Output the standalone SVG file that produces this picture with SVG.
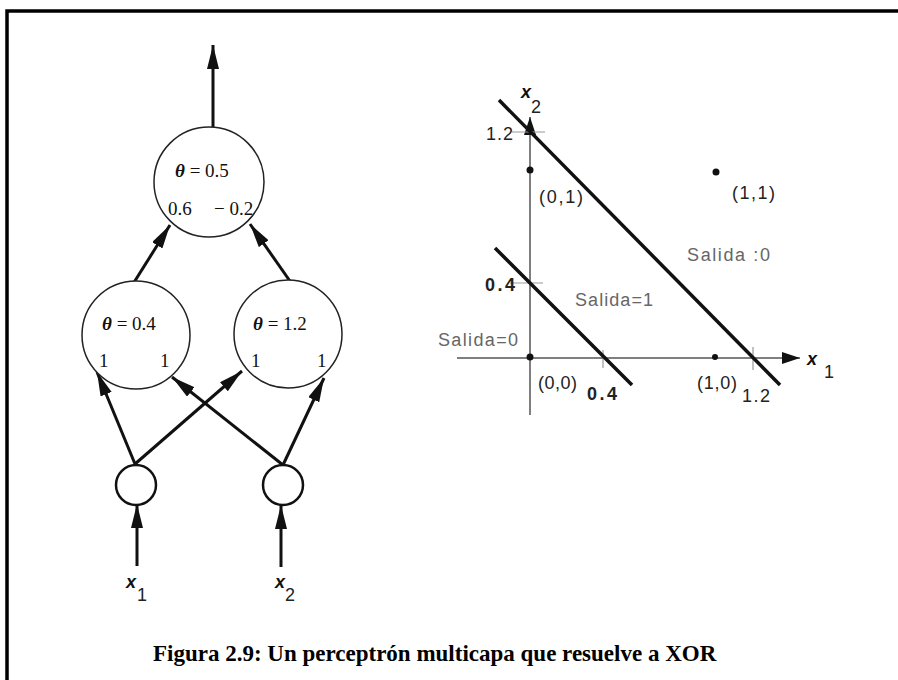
<svg xmlns="http://www.w3.org/2000/svg" width="898" height="680" viewBox="0 0 898 680">
<style>
.node{fill:#fff;stroke:#222;stroke-width:1.5}
.inp{fill:#fff;stroke:#111;stroke-width:2.5}
.edge{stroke:#111;stroke-width:3;fill:none}
.ser{font-family:"Liberation Serif",serif;font-size:19px;fill:#111}
.sans{font-family:"Liberation Sans",Arial,sans-serif;font-size:18px;fill:#222}
.gray{font-family:"Liberation Sans",Arial,sans-serif;font-size:18px;fill:#666}
.var{font-family:"Liberation Sans",Arial,sans-serif;font-size:18px;fill:#111;font-style:italic;font-weight:bold}
.axis{stroke:#555;stroke-width:1.5;fill:none}
.dline{stroke:#111;stroke-width:3.5;fill:none}
.tick{stroke:#999;stroke-width:1.2}
.cap{font-family:"Liberation Serif",serif;font-weight:bold;font-size:23px;fill:#000}
</style>
<defs>
<marker id="ah" viewBox="0 0 24 12" refX="24" refY="6" markerWidth="24" markerHeight="12" markerUnits="userSpaceOnUse" orient="auto">
<path d="M0,0 L24,6 L0,12 Z" fill="#111"/>
</marker>
<marker id="ax" viewBox="0 0 18 12" refX="18" refY="6" markerWidth="18" markerHeight="12" markerUnits="userSpaceOnUse" orient="auto">
<path d="M0,0 L18,6 L0,12 Z" fill="#111"/>
</marker>
</defs>
<rect width="898" height="680" fill="#fff"/>
<path d="M7,680 V11 H898" stroke="#000" stroke-width="3.5" fill="none"/>

<g id="connectors">
<line class="edge" x1="213" y1="127" x2="213" y2="45" marker-end="url(#ah)"/>
<line class="edge" x1="133" y1="284" x2="170" y2="225" marker-end="url(#ah)"/>
<line class="edge" x1="292" y1="284" x2="250" y2="224" marker-end="url(#ah)"/>
<line class="edge" x1="135" y1="464" x2="97" y2="372" marker-end="url(#ah)"/>
<line class="edge" x1="135" y1="464" x2="242" y2="371" marker-end="url(#ah)"/>
<line class="edge" x1="283" y1="465" x2="172" y2="377" marker-end="url(#ah)"/>
<line class="edge" x1="283" y1="465" x2="324" y2="378" marker-end="url(#ah)"/>
<line class="edge" x1="137" y1="566" x2="137" y2="504" marker-end="url(#ah)"/>
<line class="edge" x1="281" y1="567" x2="281" y2="505" marker-end="url(#ah)"/>
</g>

<g id="out">
<circle class="node" cx="209" cy="182" r="55"/>
<text class="ser" x="175" y="177"><tspan font-style="italic" font-weight="bold">θ</tspan> = 0.5</text>
<text class="ser" x="168" y="215">0.6</text>
<text class="ser" x="214" y="215">− 0.2</text>
</g>
<g id="h1">
<circle class="node" cx="136" cy="335" r="54"/>
<text class="ser" x="102" y="330"><tspan font-style="italic" font-weight="bold">θ</tspan> = 0.4</text>
<text class="ser" x="99" y="367">1</text>
<text class="ser" x="160" y="367">1</text>
</g>
<g id="h2">
<circle class="node" cx="288" cy="334" r="54"/>
<text class="ser" x="253" y="330"><tspan font-style="italic" font-weight="bold">θ</tspan> = 1.2</text>
<text class="ser" x="251" y="367">1</text>
<text class="ser" x="317" y="367">1</text>
</g>
<g id="in1">
<circle class="inp" cx="136" cy="485" r="20"/>
<text class="var" x="126" y="588">x</text>
<text class="sans" x="137" y="601">1</text>
</g>
<g id="in2">
<circle class="inp" cx="283" cy="485" r="20"/>
<text class="var" x="275" y="588">x</text>
<text class="sans" x="285" y="601">2</text>
</g>

<g id="plot">
<line class="axis" x1="457" y1="358" x2="800" y2="358" marker-end="url(#ax)"/>
<line class="axis" x1="530" y1="415" x2="530" y2="117" marker-end="url(#ax)"/>
<line class="tick" x1="512" y1="132" x2="545" y2="132"/>
<line class="tick" x1="510" y1="283" x2="543" y2="283"/>
<line class="tick" x1="603" y1="350" x2="603" y2="368"/>
<line class="tick" x1="753" y1="347" x2="753" y2="370"/>
<line class="dline" x1="495" y1="248" x2="632" y2="385"/>
<line class="dline" x1="499" y1="100" x2="780" y2="385"/>
<circle cx="530" cy="357" r="3.5" fill="#111"/>
<circle cx="530" cy="170" r="3.5" fill="#111"/>
<circle cx="715" cy="357" r="3" fill="#111"/>
<circle cx="716" cy="172" r="3.5" fill="#111"/>
<text class="var" x="521" y="98">x</text>
<text class="sans" x="531" y="113">2</text>
<text class="sans" x="486" y="140" textLength="27">1.2</text>
<text class="sans" x="539" y="203" textLength="44">(0,1)</text>
<text class="sans" x="732" y="199" textLength="43">(1,1)</text>
<text class="gray" x="687" y="261" textLength="83">Salida :0</text>
<text class="sans" x="485" y="291" font-weight="bold" textLength="30">0.4</text>
<text class="gray" x="575" y="306" textLength="78">Salida=1</text>
<text class="gray" x="438" y="346" textLength="80">Salida=0</text>
<text class="sans" x="538" y="389" textLength="39">(0,0)</text>
<text class="sans" x="587" y="400" font-weight="bold" textLength="30">0.4</text>
<text class="sans" x="697" y="389" textLength="40">(1,0)</text>
<text class="sans" x="742" y="402" textLength="28">1.2</text>
<text class="var" x="807" y="365">x</text>
<text class="sans" x="824" y="378">1</text>
</g>

<text class="cap" x="153" y="661">Figura 2.9: Un perceptrón multicapa que resuelve a XOR</text>
</svg>
